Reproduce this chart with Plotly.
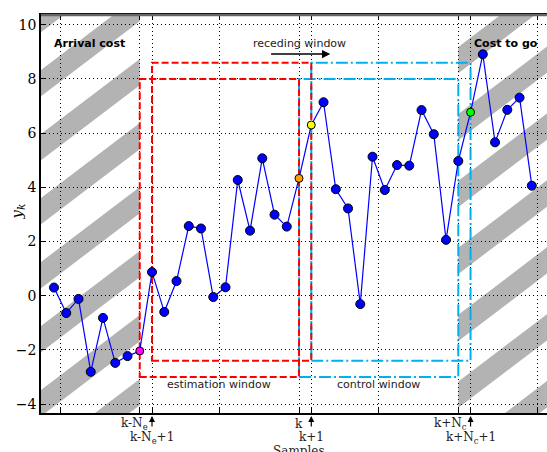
import plotly.graph_objects as go

# ---------------- data ----------------
samples = list(range(-20, 20))          # sample index relative to k
values = [0.30, -0.64, -0.12, -2.81, -0.82, -2.48, -2.23, -2.04, 0.87, -0.60,
          0.54, 2.57, 2.48, -0.05, 0.31, 4.27, 2.40, 5.07, 2.99, 2.55,
          4.33, 6.30, 7.14, 3.93, 3.22, -0.31, 5.13, 3.90, 4.82, 4.80,
          6.85, 5.96, 2.06, 4.97, 6.77, 8.91, 5.66, 6.86, 7.31, 4.06]
special_samples = [-13, 0, 1, 14]
special_colors = ["#ff00ff", "#ffa500", "#ffff00", "#00ff00"]

Ne = 13
Nc = 13
outer_y = [-3.0, 8.0]
inner_y = [-2.4, 8.6]

major_ticks = [-19.5, -13, -6.5, 0, 6.5, 13, 19.5]
minor_ticks = [-12, 1, 14]
y_ticks = [-4, -2, 0, 2, 4, 6, 8, 10]
y_ticktext = ["\u22124", "\u22122", "0", "2", "4", "6", "8", "10"]

x_labels = [("k-N<sub>e</sub>", -Ne, -5, -1), ("k-N<sub>e</sub>+1", -Ne + 1, 0, -15),
            ("k", 0, 0, -2), ("k+1", 1, 0, -15),
            ("k+N<sub>c</sub>", Nc, -8, -1), ("k+N<sub>c</sub>+1", Nc + 1, 0, -15)]

XR = [-21.06, 20.24]
YR = [-4.33, 10.36]

# hatch band geometry (decorative)
band_slope = 0.3435
band_period_left = 2.362
band_period_right = 2.47
band_thick = 0.97
left_start = 8.33
right_start = 9.18
GRAY = "#b3b3b3"
RED = "#ff0000"
BLUE = "#00b0f0"


def clip_poly(poly, ymin, ymax):
    def clip(pts, keep, inter):
        out = []
        n = len(pts)
        for i in range(n):
            cur, prev = pts[i], pts[i - 1]
            if keep(cur):
                if not keep(prev):
                    out.append(inter(prev, cur))
                out.append(cur)
            elif keep(prev):
                out.append(inter(prev, cur))
        return out

    def ix(yc):
        def f(p, q):
            t = (yc - p[1]) / (q[1] - p[1])
            return (p[0] + t * (q[0] - p[0]), yc)
        return f
    pts = clip(poly, lambda p: p[1] >= ymin, ix(ymin))
    if pts:
        pts = clip(pts, lambda p: p[1] <= ymax, ix(ymax))
    return pts


def bands(x0, x1, start, period):
    shapes = []
    for n in range(-6, 12):
        a = start - n * period
        d = band_slope * (x1 - x0)
        poly = [(x0, a - band_thick), (x1, a - band_thick + d), (x1, a + d), (x0, a)]
        pts = clip_poly(poly, YR[0], YR[1])
        if len(pts) >= 3:
            path = "M " + " L ".join(f"{x:.4f},{y:.4f}" for x, y in pts) + " Z"
            shapes.append(dict(type="path", path=path, xref="x", yref="y",
                               fillcolor=GRAY, line=dict(width=0), layer="below"))
    return shapes


fig = go.Figure()

marker_colors = ["#0000ff"] * len(samples)
marker_sizes = [9] * len(samples)
for s, c in zip(special_samples, special_colors):
    i = samples.index(s)
    marker_colors[i] = c
    marker_sizes[i] = 8

fig.add_trace(go.Scatter(
    x=samples, y=values, mode="lines+markers",
    line=dict(color="#0000ff", width=1.2),
    marker=dict(color=marker_colors, size=marker_sizes, opacity=1,
                line=dict(color="black", width=1)),
    showlegend=False, cliponaxis=False, hoverinfo="skip"))

shapes = []
shapes += bands(XR[0], -Ne, left_start, band_period_left)
shapes += bands(Nc, XR[1], right_start, band_period_right)

dash_red = "7px,3px"
dashdot_blue = "12px,3px,2px,3px"
# control windows (blue) first, estimation windows (red) on top
shapes.append(dict(type="rect", x0=0, x1=Nc, y0=outer_y[0], y1=outer_y[1],
                   line=dict(color=BLUE, width=2, dash=dashdot_blue), layer="between"))
shapes.append(dict(type="rect", x0=1, x1=Nc + 1, y0=inner_y[0], y1=inner_y[1],
                   line=dict(color=BLUE, width=2, dash=dashdot_blue), layer="between"))
shapes.append(dict(type="rect", x0=-Ne, x1=0, y0=outer_y[0], y1=outer_y[1],
                   line=dict(color=RED, width=2, dash=dash_red), layer="between"))
shapes.append(dict(type="rect", x0=-Ne + 1, x1=1, y0=inner_y[0], y1=inner_y[1],
                   line=dict(color=RED, width=2, dash=dash_red), layer="between"))
# top border
shapes.append(dict(type="line", xref="paper", yref="paper", x0=0, x1=1, y0=1, y1=1,
                   line=dict(color="#666666", width=2.5)))

annotations = []
sans = "DejaVu Sans"
serif = "DejaVu Serif"
annotations.append(dict(x=-20.16, y=9.29, text="<b>Arrival cost</b>", showarrow=False,
                        xanchor="left", yanchor="middle", font=dict(family=sans, size=11, color="black")))
annotations.append(dict(x=19.67, y=9.32, text="<b>Cost to go</b>", showarrow=False,
                        xanchor="right", yanchor="middle", font=dict(family=sans, size=11, color="black")))
annotations.append(dict(x=0, y=9.29, text="receding window", showarrow=False,
                        xanchor="center", yanchor="middle", font=dict(family=sans, size=11, color="#222222")))
annotations.append(dict(x=-6.5, y=-3.29, text="estimation window", showarrow=False,
                        xanchor="center", yanchor="middle", font=dict(family=sans, size=11, color="#222222")))
annotations.append(dict(x=6.5, y=-3.29, text="control window", showarrow=False,
                        xanchor="center", yanchor="middle", font=dict(family=sans, size=11, color="#222222")))
# receding arrow
annotations.append(dict(x=2.55, y=8.92, ax=-2.4, ay=8.92, axref="x", ayref="y", text="",
                        showarrow=True, arrowhead=2, arrowsize=1.1, arrowwidth=1.5, arrowcolor="black"))
# x tick labels
for txt, xv, xs, ys in x_labels:
    annotations.append(dict(x=xv, y=0, yref="paper", text=txt, showarrow=False,
                            xanchor="center", yanchor="top", xshift=xs, yshift=ys,
                            font=dict(family=serif, size=12, color="#222222")))
# upward arrows at minor ticks
for xv in minor_ticks:
    annotations.append(dict(x=xv, y=0, yref="paper", text="", showarrow=True,
                            ax=0, ay=15, standoff=3, arrowhead=2, arrowsize=1,
                            arrowwidth=1.2, arrowcolor="black"))
# axis titles
annotations.append(dict(x=-0.047, y=0.507, xref="paper", yref="paper",
                        text="<i>y</i><sub><i>k</i></sub>", showarrow=False, textangle=-90,
                        xanchor="center", yanchor="middle", font=dict(family=serif, size=15, color="black")))
annotations.append(dict(x=0, y=-0.072, yref="paper", text="Samples", showarrow=False,
                        xanchor="center", yanchor="top", font=dict(family=serif, size=12, color="#222222")))

grid_dash = "1px,3px"
fig.update_layout(
    width=547, height=452,
    margin=dict(l=41, r=0, t=15, b=39, autoexpand=False),
    plot_bgcolor="white", paper_bgcolor="white",
    shapes=shapes, annotations=annotations,
    xaxis=dict(range=XR, tickmode="array", tickvals=major_ticks, showticklabels=False,
               ticks="inside", ticklen=5, tickcolor="black", tickwidth=1,
               showline=True, linecolor="black", linewidth=1.5, mirror="ticks",
               showgrid=True, gridcolor="black", gridwidth=1, griddash=grid_dash,
               zeroline=False, automargin=False,
               minor=dict(tickmode="array", tickvals=minor_ticks, showgrid=True,
                          gridcolor="black", gridwidth=1, griddash=grid_dash,
                          ticks="inside", ticklen=5, tickcolor="black")),
    yaxis=dict(range=YR, tickmode="array", tickvals=y_ticks, ticktext=y_ticktext,
               ticks="inside", ticklen=5, tickcolor="black", tickwidth=1,
               showline=True, linecolor="black", linewidth=1.5, mirror=False,
               showgrid=True, gridcolor="black", gridwidth=1, griddash=grid_dash,
               zeroline=False, automargin=False,
               tickfont=dict(family=serif, size=14, color="black")),
)

fig.write_html("out.html", config={"displayModeBar": False},
               post_script="document.body.style.margin='0';document.body.style.overflow='hidden';")
